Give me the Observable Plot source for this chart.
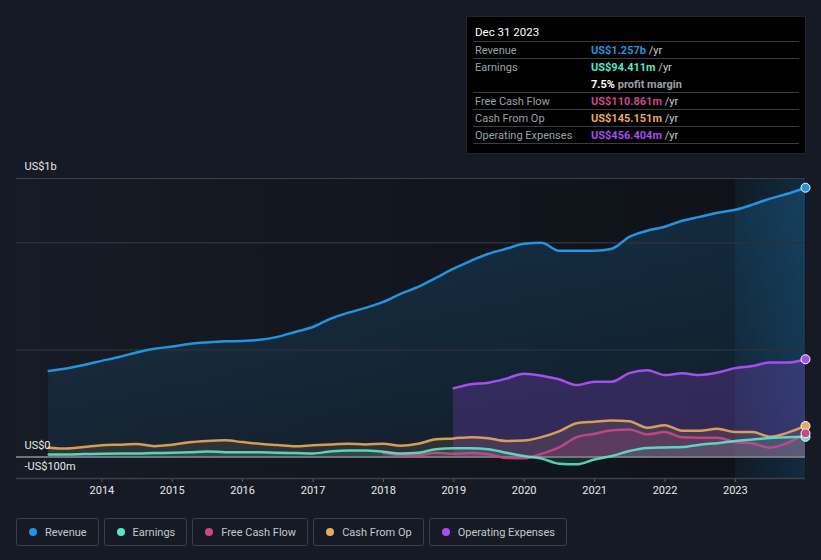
<!DOCTYPE html>
<html>
<head>
<meta charset="utf-8">
<script src="https://cdn.jsdelivr.net/npm/d3@7"></script>
<script src="https://cdn.jsdelivr.net/npm/@observablehq/plot@0.6"></script>
<style>
  html, body { margin: 0; padding: 0; background: #151a24; }
  body { width: 821px; height: 560px; overflow: hidden; position: relative; font-family: Roboto, "Open Sans", sans-serif; }
  #chart { position: absolute; left: 0; top: 0; }
  #tip { position: absolute; left: 466px; top: 16px; width: 338px; height: 136px; background: #000; border: 1px solid #1f232a; font-size: 11px; color: #9ba1a8; }
  #tip .title { position: absolute; left: 8px; top: 8px; color: #fff; font-size: 11.5px; }
  #tip .row { position: absolute; left: 6px; width: 326px; border-top: 1px solid #3a3d43; height: 17px; line-height: 17px; }
  #tip .lab { position: absolute; left: 2px; top: 0; }
  #tip .val { position: absolute; left: 118px; top: 0; font-weight: 700; white-space: nowrap; }
  #tip .yr { color: #c9cdd2; font-weight: 400; }
  #legend { position: absolute; left: 16px; top: 518px; display: flex; gap: 5px; }
  #legend .item { box-sizing: border-box; height: 28px; border: 1px solid #3a3f49; border-radius: 3px; display: flex; align-items: center; padding: 0 11px 0 12px; color: #c4c8ce; font-size: 11px; }
  #legend .dot { width: 8px; height: 8px; border-radius: 50%; margin-right: 8px; }
</style>
</head>
<body>
<div id="chart"></div>
<div id="tip"></div>
<div id="legend"></div>
<script>
// ---- data (US$ millions, trailing twelve months) ----
const quarters = [
  "2013-03-31","2013-06-30","2013-09-30","2013-12-31",
  "2014-03-31","2014-06-30","2014-09-30","2014-12-31",
  "2015-03-31","2015-06-30","2015-09-30","2015-12-31",
  "2016-03-31","2016-06-30","2016-09-30","2016-12-31",
  "2017-03-31","2017-06-30","2017-09-30","2017-12-31",
  "2018-03-31","2018-06-30","2018-09-30","2018-12-31",
  "2019-03-31","2019-06-30","2019-09-30","2019-12-31",
  "2020-03-31","2020-06-30","2020-09-30","2020-12-31",
  "2021-03-31","2021-06-30","2021-09-30","2021-12-31",
  "2022-03-31","2022-06-30","2022-09-30","2022-12-31",
  "2023-03-31","2023-06-30","2023-09-30","2023-12-31"
];
const revenue = [402,413,430,449,467,488,505,516,528,535,540,542,547,561,584,607,645,673,696,724,762,794,836,879,916,949,972,995,1000,963,963,963,972,1028,1056,1075,1103,1121,1140,1154,1178,1206,1229,1257];
const earnings = [12,12,14,16,17,17,19,20,22,26,23,22,22,20,19,17,26,31,31,25,17,20,37,41,41,37,20,5,-7,-31,-34,-11,5,28,42,45,47,58,65,75,82,89,93,94.411];
const cashFromOp = [44,40,47,55,58,61,51,58,69,75,78,70,62,56,50,55,59,62,59,62,53,62,83,87,93,88,75,77,93,120,158,165,171,167,137,149,123,123,132,117,117,95,114,145.151];
const fcfQuarters = quarters.slice(19);
const freeCashFlow = [20,9,8,20,15,19,13,-4,-6,15,45,93,109,125,129,106,117,92,90,90,70,64,44,67,110.861];
const opexQuarters = quarters.slice(23);
const operatingExpenses = [321,340,347,366,389,380,363,336,352,352,392,405,383,391,383,394,415,425,441,441,456.404];

const yearTicks = ["2014","2015","2016","2017","2018","2019","2020","2021","2022","2023"];
const yLabels = [{v: 1300, t: "US$1b"}, {v: 0, t: "US$0"}, {v: -100, t: "-US$100m"}];

const colors = {
  revenue: "#2394df", earnings: "#5ee3c8", fcf: "#c9488a", cfo: "#e9a95b", opex: "#a64ef0"
};

const parse = d3.utcParse("%Y-%m-%d");
const series = (dates, vals) => dates.map((d, i) => ({date: parse(d), value: vals[i]}));
const revData = series(quarters, revenue);
const earnData = series(quarters, earnings);
const cfoData = series(quarters, cashFromOp);
const fcfData = series(fcfQuarters, freeCashFlow);
const opexData = series(opexQuarters, operatingExpenses);
const last = arr => [arr[arr.length - 1]];

const curve = "monotone-x";
const plot = Plot.plot({
  width: 821,
  height: 505,
  marginLeft: 16,
  marginRight: 16,
  marginTop: 178,
  marginBottom: 27,
  style: {background: "transparent", color: "#e8e8e8", fontFamily: "Roboto, sans-serif", fontSize: "11px", overflow: "visible"},
  x: {type: "utc", domain: [parse("2012-10-15"), parse("2023-12-31")], ticks: yearTicks.map(y => d3.utcParse("%Y")(y)), tickFormat: "%Y", tickSize: 4, tickPadding: 4, label: null},
  y: {domain: [-100, 1300], axis: null},
  marks: [
    Plot.frame({fill: "url(#bgGrad)", stroke: null}),
    Plot.rect([{x1: parse("2023-01-01"), x2: parse("2023-12-31")}], {x1: "x1", x2: "x2", y1: -100, y2: 1300, fill: "url(#hlGrad)"}),
    Plot.areaY(revData, {x: "date", y: "value", fill: "url(#revGrad)", curve}),
    Plot.areaY(opexData, {x: "date", y: "value", fill: colors.opex, fillOpacity: 0.22, curve}),
    Plot.areaY(cfoData, {x: "date", y: "value", fill: colors.cfo, fillOpacity: 0.12, curve}),
    Plot.areaY(fcfData, {x: "date", y: "value", fill: colors.fcf, fillOpacity: 0.16, curve}),
    Plot.areaY(earnData, {x: "date", y: "value", fill: colors.earnings, fillOpacity: 0.12, curve}),
    Plot.ruleY([500, 1000], {stroke: "#2a313c", strokeWidth: 1.5}),
    Plot.ruleY([1300], {stroke: "#3a3f48", strokeWidth: 1}),
    Plot.ruleY([-100], {stroke: "#3c424c", strokeWidth: 1.5}),
    Plot.ruleY([0], {stroke: "#8c9096", strokeWidth: 1.5}),
    Plot.line(revData, {x: "date", y: "value", stroke: colors.revenue, strokeWidth: 2.5, curve}),
    Plot.line(opexData, {x: "date", y: "value", stroke: colors.opex, strokeWidth: 2.5, curve}),
    Plot.line(cfoData, {x: "date", y: "value", stroke: colors.cfo, strokeWidth: 2.5, strokeOpacity: 0.9, curve}),
    Plot.line(fcfData, {x: "date", y: "value", stroke: colors.fcf, strokeWidth: 2.5, strokeOpacity: 0.9, curve}),
    Plot.line(earnData, {x: "date", y: "value", stroke: colors.earnings, strokeWidth: 2.5, strokeOpacity: 0.9, curve}),
    Plot.dot(last(revData), {x: "date", y: "value", r: 4.5, fill: colors.revenue, stroke: "#fff", strokeWidth: 1}),
    Plot.dot(last(opexData), {x: "date", y: "value", r: 4.5, fill: colors.opex, stroke: "#fff", strokeWidth: 1}),
    Plot.dot(last(cfoData), {x: "date", y: "value", r: 4.5, fill: colors.cfo, stroke: "#fff", strokeWidth: 1}),
    Plot.dot(last(earnData), {x: "date", y: "value", r: 4.5, fill: colors.earnings, stroke: "#fff", strokeWidth: 1}),
    Plot.dot(last(fcfData), {x: "date", y: "value", r: 4.5, fill: colors.fcf, stroke: "#fff", strokeWidth: 1}),
    Plot.text(yLabels, {frameAnchor: "left", y: "v", text: "t", dx: 8, dy: -12, textAnchor: "start", fill: "#e8e8e8", fontSize: 11})
  ]
});

const defs = d3.select(plot).insert("defs", ":first-child");
function grad(id, x2, y2, stops) {
  const g = defs.append("linearGradient").attr("id", id).attr("x1", 0).attr("y1", 0).attr("x2", x2).attr("y2", y2);
  stops.forEach(([o, c, a]) => g.append("stop").attr("offset", o).attr("stop-color", c).attr("stop-opacity", a));
}
grad("bgGrad", 1, 0, [[0, "#161b25", 1], [1, "#0e1117", 1]]);
grad("hlGrad", 1, 0, [[0, "#2394df", 0.07], [1, "#2394df", 0.2]]);
grad("revGrad", 0, 1, [[0, "#2394df", 0.2], [1, "#2394df", 0.08]]);
d3.select(plot).selectAll("g[aria-label='x-axis tick'] path, g[aria-label='x-axis'] line").attr("stroke", "#555b66");
document.getElementById("chart").appendChild(plot);

// ---- tooltip ----
const tipRows = [
  {label: "Revenue", value: "US$1.257b", color: colors.revenue},
  {label: "Earnings", value: "US$94.411m", color: colors.earnings, extra: true},
  {label: "Free Cash Flow", value: "US$110.861m", color: colors.fcf},
  {label: "Cash From Op", value: "US$145.151m", color: colors.cfo},
  {label: "Operating Expenses", value: "US$456.404m", color: colors.opex}
];
const tip = document.getElementById("tip");
tip.innerHTML = `<div class="title">Dec 31 2023</div>`;
let rowTop = 24;
tipRows.forEach(r => {
  const h = r.extra ? 34 : 17;
  const d = document.createElement("div");
  d.className = "row";
  d.style.top = rowTop + "px";
  d.style.height = h + "px";
  d.innerHTML = `<span class="lab">${r.label}</span><span class="val" style="color:${r.color}">${r.value} <span class="yr">/yr</span></span>` +
    (r.extra ? `<span class="val" style="top:17px;color:#fff">7.5% <span class="yr" style="color:#9ba1a8;font-weight:700">profit margin</span></span>` : "");
  tip.appendChild(d);
  rowTop += h;
});
const endLine = document.createElement("div");
endLine.className = "row";
endLine.style.top = rowTop + "px";
endLine.style.height = "0px";
tip.appendChild(endLine);

// ---- legend ----
const legendItems = [
  ["Revenue", colors.revenue], ["Earnings", colors.earnings], ["Free Cash Flow", colors.fcf],
  ["Cash From Op", colors.cfo], ["Operating Expenses", colors.opex]
];
const legend = document.getElementById("legend");
legendItems.forEach(([name, c]) => {
  const it = document.createElement("div");
  it.className = "item";
  it.innerHTML = `<span class="dot" style="background:${c}"></span><span>${name}</span>`;
  legend.appendChild(it);
});
</script>
</body>
</html>
